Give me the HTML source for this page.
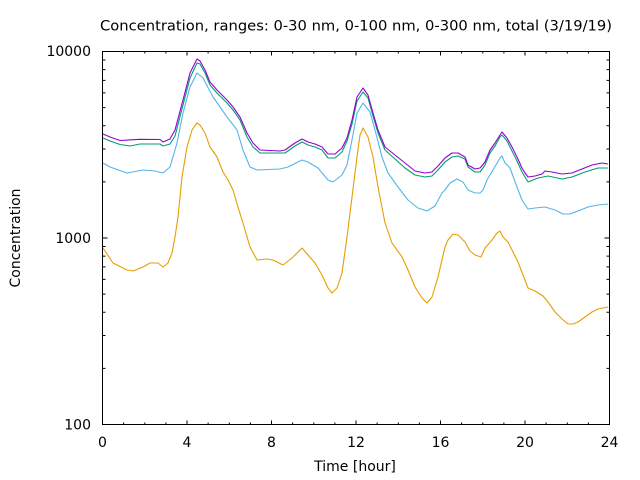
<!DOCTYPE html>
<html>
<head>
<meta charset="utf-8">
<style>
html,body{margin:0;padding:0;background:#fff;}
svg{display:block;}
text{font-family:"DejaVu Sans","Liberation Sans",sans-serif;font-size:14px;fill:#000;}
</style>
</head>
<body>
<svg width="640" height="480" viewBox="0 0 640 480" xmlns="http://www.w3.org/2000/svg">
<rect width="640" height="480" fill="#fff"/>

<!-- title -->
<text x="100" y="30.5" textLength="512" lengthAdjust="spacingAndGlyphs">Concentration, ranges: 0-30 nm, 0-100 nm, 0-300 nm, total (3/19/19)</text>

<!-- y tick labels -->
<text x="91" y="56" text-anchor="end">10000</text>
<text x="91" y="243" text-anchor="end">1000</text>
<text x="91" y="429.5" text-anchor="end">100</text>

<!-- x tick labels -->
<text x="102.5" y="447" text-anchor="middle">0</text>
<text x="187" y="447" text-anchor="middle">4</text>
<text x="271.5" y="447" text-anchor="middle">8</text>
<text x="356" y="447" text-anchor="middle">12</text>
<text x="440.5" y="447" text-anchor="middle">16</text>
<text x="525" y="447" text-anchor="middle">20</text>
<text x="609.5" y="447" text-anchor="middle">24</text>

<!-- axis labels -->
<text x="355" y="471" text-anchor="middle">Time [hour]</text>
<text transform="translate(20,238) rotate(-90)" text-anchor="middle">Concentration</text>

<!-- ticks -->
<g stroke="#000" stroke-width="1" fill="none">
<path d="
M102.5,424.5v-4 M102.5,51.5v4
M123.6,424.5v-2 M123.6,51.5v2
M144.8,424.5v-2 M144.8,51.5v2
M165.9,424.5v-2 M165.9,51.5v2
M187,424.5v-4 M187,51.5v4
M208.1,424.5v-2 M208.1,51.5v2
M229.3,424.5v-2 M229.3,51.5v2
M250.4,424.5v-2 M250.4,51.5v2
M271.5,424.5v-4 M271.5,51.5v4
M292.6,424.5v-2 M292.6,51.5v2
M313.8,424.5v-2 M313.8,51.5v2
M334.9,424.5v-2 M334.9,51.5v2
M356,424.5v-4 M356,51.5v4
M377.1,424.5v-2 M377.1,51.5v2
M398.3,424.5v-2 M398.3,51.5v2
M419.4,424.5v-2 M419.4,51.5v2
M440.5,424.5v-4 M440.5,51.5v4
M461.6,424.5v-2 M461.6,51.5v2
M482.8,424.5v-2 M482.8,51.5v2
M503.9,424.5v-2 M503.9,51.5v2
M525,424.5v-4 M525,51.5v4
M546.1,424.5v-2 M546.1,51.5v2
M567.3,424.5v-2 M567.3,51.5v2
M588.4,424.5v-2 M588.4,51.5v2
M609.5,424.5v-4 M609.5,51.5v4
"/>
<path d="
M102.5,238h5 M609.5,238h-5
M102.5,51.5h5 M609.5,51.5h-5
M102.5,424.5h5 M609.5,424.5h-5
M102.5,368.4h3 M609.5,368.4h-3
M102.5,335.5h3 M609.5,335.5h-3
M102.5,312.2h3 M609.5,312.2h-3
M102.5,294.1h3 M609.5,294.1h-3
M102.5,279.4h3 M609.5,279.4h-3
M102.5,266.9h3 M609.5,266.9h-3
M102.5,256.1h3 M609.5,256.1h-3
M102.5,246.5h3 M609.5,246.5h-3
M102.5,181.9h3 M609.5,181.9h-3
M102.5,149h3 M609.5,149h-3
M102.5,125.7h3 M609.5,125.7h-3
M102.5,107.6h3 M609.5,107.6h-3
M102.5,92.9h3 M609.5,92.9h-3
M102.5,80.4h3 M609.5,80.4h-3
M102.5,69.6h3 M609.5,69.6h-3
M102.5,60h3 M609.5,60h-3
"/>
</g>

<!-- series -->
<g fill="none" stroke-width="1.1" stroke-linejoin="round">
<polyline stroke="#e69f00" points="103,248 113,263 127,270 133,271 143,267 150,263 158,263 163,267 168,263 172,253 175,237 178,217 182,177 187,147 192,130 197,123 200,125 205,133 210,147 217,157 223,172 228,180 233,190 238,207 243,223 250,247 257,260 267,259 273,260 283,265 292,258 302,248 308,255 315,263 322,275 328,288 332,293 337,288 342,273 347,237 352,197 357,157 360,135 363,128 368,137 373,157 378,187 385,223 392,243 402,257 408,270 415,287 422,298 427,303 432,297 438,277 445,247 448,240 453,234 458,235 465,242 470,251 475,255 481,257 485,248 492,240 497,233 500,231 503,237 508,242 513,252 518,262 523,275 528,288 535,291 543,296 548,302 555,312 562,319 568,324 573,324 578,322 585,317 592,312 598,309 608,307"/>
<polyline stroke="#56b4e9" points="103,163 110,167 127,173 143,170 155,171 163,173 170,167 177,143 183,113 190,87 197,73 203,78 213,97 227,117 237,130 243,150 250,167 257,170 280,169 288,167 302,160 308,162 318,168 328,180 333,182 342,175 347,165 352,140 357,113 363,103 370,112 375,130 382,157 388,173 398,187 408,200 418,208 427,211 435,206 442,193 445,190 450,183 457,179 463,182 468,190 475,193 480,193 483,190 487,180 493,170 500,158 502,156 505,163 510,168 517,187 522,200 528,209 535,208 545,207 555,210 563,214 570,214 578,211 588,207 598,205 608,204"/>
<polyline stroke="#009e73" points="103,138 110,141 120,144.5 130,146 140,144 160,144 163,146 170,144 175,136 183,105 190,78 197,63 200,64 205,73 210,85 217,93 227,103 233,110 240,120 247,137 253,147 260,153 280,153 285,153 295,146 302,142 308,145 315,147 322,150 328,158 335,158 342,152 347,141 352,124 357,101 363,92 368,98 373,116 378,133 385,150 395,159 405,168 415,175 425,177 432,176 438,170 445,162 452,157 458,156 465,159 468,167 475,172 480,172 485,165 490,153 495,146 500,137 502,135 507,141 512,151 517,161 522,172 528,182 538,178 548,176 562,179 572,177 585,172 598,168 608,168"/>
<polyline stroke="#9400d3" points="103,134 110,137 120,140.5 140,139.3 160,139.5 163,142 170,139 175,130 183,100 190,73 197,59 200,61 205,70 210,82 217,90 227,100 233,107 240,117 247,133 253,143 260,150 280,151 285,150 295,143 302,139 308,142 315,144 322,147 328,154 335,154 342,148 347,138 352,120 357,97 363,88 368,95 373,113 378,130 385,147 395,155 405,163 415,171 425,173 432,172 438,166 445,158 452,153 458,153 465,157 468,165 475,169 480,168 485,162 490,150 495,143 500,135 502,132 507,138 512,147 517,157 522,168 525,173 528,177 535,176 542,174 545,171 552,172 562,174 572,173 582,169 592,165 602,163 608,164"/>
</g>

<!-- border -->
<rect x="102.5" y="51.5" width="507" height="373" fill="none" stroke="#000" stroke-width="1"/>
</svg>
</body>
</html>
